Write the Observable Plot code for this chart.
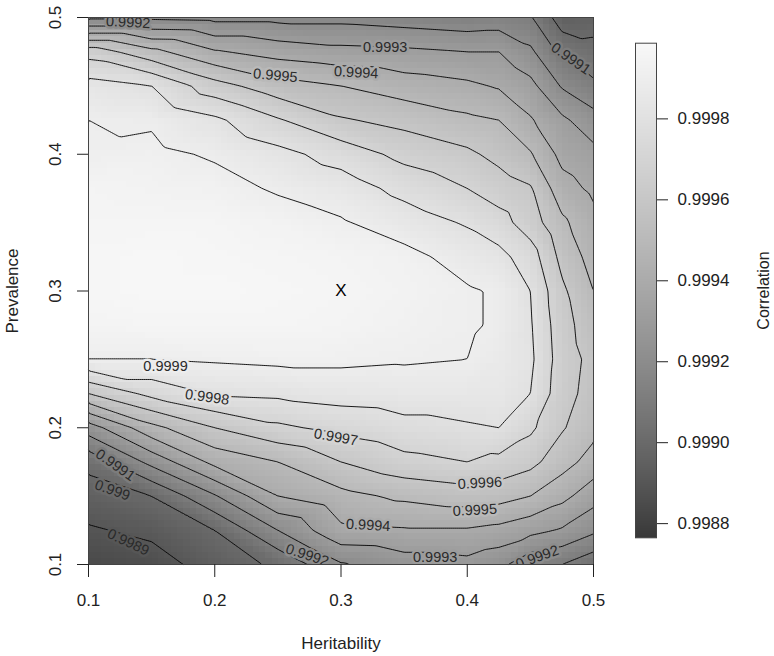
<!DOCTYPE html>
<html><head><meta charset="utf-8">
<script src="https://cdn.jsdelivr.net/npm/d3@7"></script>
<script src="https://cdn.jsdelivr.net/npm/@observablehq/plot@0.6"></script>
<style>
body{margin:0;background:#fff;}
#wrap{position:relative;width:774px;height:656px;font-family:"Liberation Sans",Arial,sans-serif;}
#main{position:absolute;left:0;top:0;}
#bar{position:absolute;left:600px;top:0;}
</style></head><body><div id="wrap"><div id="main"></div><div id="bar"></div></div>
<script>
// grid columns (heritability) and rows (prevalence)
const heritability = [0.1, 0.15, 0.2, 0.25, 0.3, 0.35, 0.4, 0.425, 0.45, 0.475, 0.5];
const prevalence = [0.1, 0.125, 0.15, 0.175, 0.2, 0.225, 0.25, 0.275, 0.3, 0.325, 0.35, 0.375, 0.4, 0.425, 0.45, 0.475, 0.5];
// correlation values, one row per prevalence, one column per heritability
const correlation = [
  [0.99884, 0.99886, 0.99894, 0.99902, 0.99919, 0.99925, 0.99927, 0.99923, 0.99913, 0.99910, 0.99903],
  [0.99889, 0.99892, 0.99900, 0.99920, 0.99938, 0.99939, 0.99939, 0.99937, 0.99933, 0.99929, 0.99922],
  [0.99895, 0.99900, 0.99919, 0.99940, 0.99947, 0.99952, 0.99955, 0.99954, 0.99950, 0.99943, 0.99934],
  [0.99903, 0.99923, 0.99943, 0.99950, 0.99960, 0.99967, 0.99970, 0.99967, 0.99963, 0.99954, 0.99946],
  [0.99925, 0.99947, 0.99960, 0.99968, 0.99973, 0.99977, 0.99979, 0.99980, 0.99972, 0.99961, 0.99953],
  [0.99960, 0.99973, 0.99981, 0.99982, 0.99984, 0.99985, 0.99985, 0.99985, 0.99980, 0.99964, 0.99956],
  [0.99990, 0.99990, 0.99991, 0.99992, 0.99992, 0.99991, 0.99990, 0.99987, 0.99982, 0.99965, 0.99957],
  [0.99995, 0.99996, 0.99996, 0.99996, 0.99995, 0.99993, 0.99991, 0.99989, 0.99981, 0.99964, 0.99954],
  [0.99997, 0.99998, 0.99998, 0.99997, 0.99996, 0.99994, 0.99991, 0.99989, 0.99980, 0.99962, 0.99950],
  [0.99997, 0.99998, 0.99997, 0.99996, 0.99995, 0.99993, 0.99986, 0.99983, 0.99975, 0.99957, 0.99946],
  [0.99996, 0.99996, 0.99996, 0.99994, 0.99991, 0.99985, 0.99979, 0.99974, 0.99965, 0.99952, 0.99943],
  [0.99995, 0.99994, 0.99993, 0.99989, 0.99985, 0.99977, 0.99970, 0.99965, 0.99961, 0.99944, 0.99938],
  [0.99991, 0.99992, 0.99989, 0.99983, 0.99976, 0.99967, 0.99962, 0.99957, 0.99951, 0.99937, 0.99933],
  [0.99990, 0.99989, 0.99982, 0.99971, 0.99961, 0.99957, 0.99952, 0.99950, 0.99941, 0.99932, 0.99924],
  [0.99984, 0.99980, 0.99964, 0.99954, 0.99950, 0.99945, 0.99942, 0.99939, 0.99933, 0.99919, 0.99912],
  [0.99966, 0.99953, 0.99941, 0.99936, 0.99933, 0.99932, 0.99930, 0.99930, 0.99922, 0.99907, 0.99903],
  [0.99918, 0.99918, 0.99917, 0.99917, 0.99917, 0.99915, 0.99913, 0.99914, 0.99911, 0.99895, 0.99896]
];
const xTicks = [0.1, 0.2, 0.3, 0.4, 0.5];
const yTicks = [0.1, 0.2, 0.3, 0.4, 0.5];
const colorTicks = [0.9988, 0.999, 0.9992, 0.9994, 0.9996, 0.9998];
const colorRange = [0.998765, 0.999987];
const contourLevels = [0.9989, 0.999, 0.9991, 0.9992, 0.9993, 0.9994, 0.9995, 0.9996, 0.9997, 0.9998, 0.9999];
const contourLabels = [
  {text: "0.9992", h: 0.1314, p: 0.4964, angle: 3},
  {text: "0.9993", h: 0.335, p: 0.4785, angle: 0},
  {text: "0.9994", h: 0.312, p: 0.4597, angle: 3},
  {text: "0.9995", h: 0.248, p: 0.4575, angle: 5},
  {text: "0.9991", h: 0.482, p: 0.4699, angle: 35},
  {text: "0.9999", h: 0.161, p: 0.245, angle: 0},
  {text: "0.9998", h: 0.194, p: 0.2224, angle: 8},
  {text: "0.9997", h: 0.296, p: 0.1931, angle: 10},
  {text: "0.9996", h: 0.410, p: 0.1595, angle: -3},
  {text: "0.9995", h: 0.406, p: 0.1397, angle: -3},
  {text: "0.9994", h: 0.3215, p: 0.1287, angle: 3},
  {text: "0.9993", h: 0.3746, p: 0.1053, angle: 0},
  {text: "0.9992", h: 0.2733, p: 0.1068, angle: 18},
  {text: "0.9992", h: 0.4555, p: 0.1053, angle: -20},
  {text: "0.9991", h: 0.1212, p: 0.1727, angle: 35},
  {text: "0.999", h: 0.1189, p: 0.1543, angle: 20},
  {text: "0.9989", h: 0.1315, p: 0.1163, angle: 25}
];
const markers = [{label: "X", h: 0.3, p: 0.3}];

const grid = prevalence.flatMap((p, i) => heritability.map((h, j) => ({h, p, v: correlation[i][j]})));

const colorScale = {
  type: "linear", domain: colorRange, range: ["#383838", "#f8f8f8"],
  interpolate: d3.interpolateRgb.gamma(1.5), clamp: true
};
const font = "Liberation Sans, Arial, sans-serif";

const main = Plot.plot({
  width: 620, height: 656,
  marginLeft: 88, marginRight: 27, marginTop: 17, marginBottom: 92,
  style: {fontFamily: font, fontSize: "17px", color: "#222", background: "transparent"},
  x: {domain: [0.1, 0.5], label: null},
  y: {domain: [0.1, 0.5], label: null},
  color: colorScale,
  marks: [
    Plot.raster(grid, {x: "h", y: "p", fill: "v", interpolate: "barycentric", pixelSize: 6.3, imageRendering: "pixelated"}),
    Plot.contour(grid, {x: "h", y: "p", value: "v", interpolate: "barycentric", thresholds: contourLevels, stroke: "#000", fill: "none", strokeWidth: 0.9}),
    Plot.text(contourLabels, {x: "h", y: "p", text: "text", rotate: "angle", fill: "#2a2a2a", stroke: d => +d.text, strokeWidth: 5, paintOrder: "stroke", fontSize: 14.5, clip: true}),
    Plot.text(markers, {x: "h", y: "p", text: "label", fontSize: 17, fill: "#000"}),
    Plot.frame({stroke: "#444"}),
    Plot.axisX({ticks: xTicks, tickSize: 13, tickFormat: () => "", label: null}),
    Plot.axisY({ticks: yTicks, tickSize: 11, tickFormat: () => "", label: null}),
    Plot.text(xTicks, {x: d => d, text: d => String(d), frameAnchor: "bottom", dy: 36, lineAnchor: "middle", textAnchor: "middle", fontSize: 17}),
    Plot.text(yTicks, {y: d => d, text: d => String(d), frameAnchor: "left", dx: -33, rotate: -90, lineAnchor: "middle", textAnchor: "middle", fontSize: 17}),
    Plot.text(["Heritability"], {text: d => d, frameAnchor: "bottom", dy: 79, lineAnchor: "middle", textAnchor: "middle", fontSize: 17}),
    Plot.text(["Prevalence"], {text: d => d, frameAnchor: "left", dx: -76, rotate: -90, lineAnchor: "middle", textAnchor: "middle", fontSize: 17})
  ]
});
document.getElementById("main").appendChild(main);

const bar = Plot.plot({
  width: 174, height: 656,
  marginLeft: 35, marginRight: 118, marginTop: 42.7, marginBottom: 118.7,
  style: {fontFamily: font, fontSize: "17px", color: "#222", background: "transparent"},
  x: {domain: [0, 1], axis: null},
  y: {domain: colorRange, axis: null},
  color: colorScale,
  marks: [
    Plot.raster({fill: (x, y) => y, x1: 0, x2: 1, y1: colorRange[0], y2: colorRange[1], pixelSize: 1}),
    Plot.frame({stroke: "#444"}),
    Plot.axisY({anchor: "right", ticks: colorTicks, tickSize: 11, tickPadding: 10, tickFormat: d3.format(".4f"), fontSize: 17, label: null}),
    Plot.text(["Correlation"], {text: d => d, frameAnchor: "right", dx: 107, rotate: -90, lineAnchor: "middle", textAnchor: "middle", fontSize: 16})
  ]
});
document.getElementById("bar").appendChild(bar);
</script></body></html>
